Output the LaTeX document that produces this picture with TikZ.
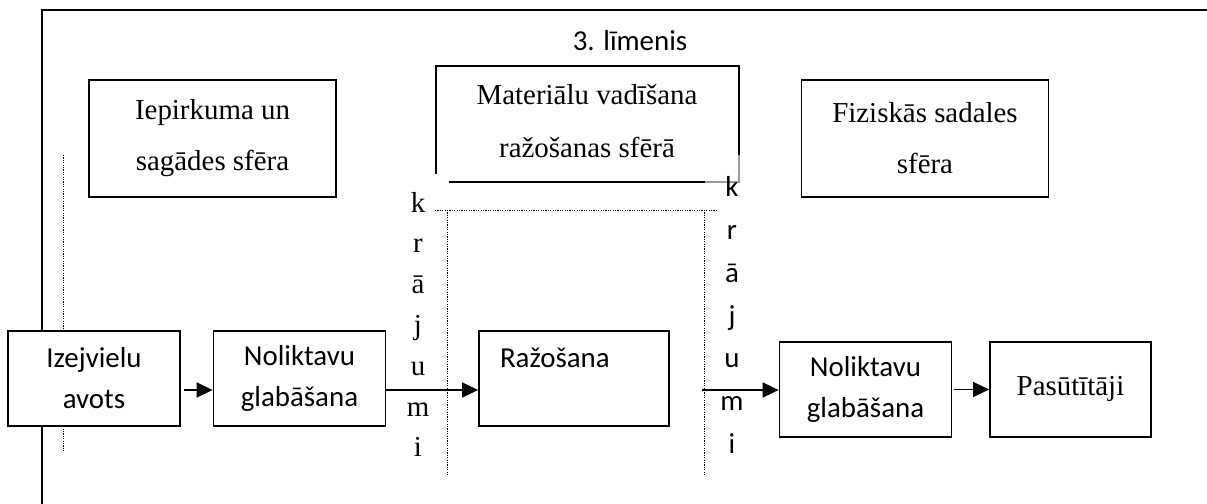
\documentclass[tikz,border=0pt]{standalone}
\usepackage{fontspec}
\setmainfont{Liberation Serif}
\setsansfont{Carlito}
\usetikzlibrary{arrows.meta,positioning}

\begin{document}
\begin{tikzpicture}[->,>={Triangle[length=8pt,width=7.5pt]},x=0.5pt,y=-0.5pt,
  line width=0.9pt]

% Define block styles
\tikzstyle{sphere} = [rectangle, draw, fill=white, align=center, inner sep=0pt,
    minimum width=123.5pt, minimum height=58.5pt, font=\fontsize{14.45pt}{25.5pt}\selectfont]
\tikzstyle{block} = [rectangle, draw, fill=white, align=center, inner sep=0pt,
    minimum width=86pt, minimum height=47.5pt, font=\sffamily\fontsize{14.45pt}{20.5pt}\selectfont]
\tikzstyle{outer} = [draw, -, line width=1.3pt]
\tikzstyle{stockline} = [draw, -, line width=0.5pt, dash pattern=on 0.6pt off 0.6pt]

\useasboundingbox (0,0) rectangle (1207,504);

% frame and stock borders
\path[outer] (42,504) -- (42,10) -- (1207,10);
\path[stockline] (63,155) -- (63,452);
\path[stockline] (435,210) -- (717,210);
\path[stockline] (447,210) -- (447,475);
\path[stockline] (704,210) -- (704,475);

% level and spheres
\node[font=\sffamily\fontsize{14.45pt}{17pt}\selectfont, anchor=base] (level) at (630,50) {3. līmenis};
\node[sphere]	(supply)	at (212.5,138.5)	{Iepirkuma un\\sagādes sfēra};
\node[sphere]	(distr)	at (925,138.5)	{Fiziskās sadales\\sfēra};
\node[font=\fontsize{14.45pt}{26.5pt}\selectfont, align=center] (prod) at (587,121) {Materiālu vadīšana\\ražošanas sfērā};
\path[draw,-] (449,182) -- (705,182);
\path[draw,-,black!40] (705,182) -- (739,182) -- (739,155);
\path[draw,-] (739,155) -- (739,66) -- (436,66) -- (436,174);

% stock labels
\node[font=\fontsize{14.45pt}{20.4pt}\selectfont, align=center] (stockL) at (418,324.5) {k\\r\\ā\\j\\u\\m\\i};
\node[font=\sffamily\fontsize{14.45pt}{21.4pt}\selectfont, align=center] (stockR) at (732,315) {k\\r\\ā\\j\\u\\m\\i};

% material flow
\node[block]		(source)	at (94,378.5)		{Izejvielu\\avots};
\node[block]		(store1)	[right of=source, node distance=102.75pt]	{Noliktavu\\glabāšana};
\node[block, minimum width=95pt, text width=74pt, align=left]	(making)	[right of=store1, node distance=137.25pt]	{Ražošana\\\mbox{}};
\node[block]		(store2)	at (865.5,389.5)	{Noliktavu\\glabāšana};
\node[block, minimum width=80.5pt, font=\fontsize{14.45pt}{20pt}\selectfont]	(clients)	[right of=store2, node distance=102.5pt]	{Pasūtītāji};

\coordinate (prodout) at (702,390);

\draw[shorten <=1.5pt] ([yshift=-5.75pt]source.east) -- ([yshift=-5.75pt]store1.west);
\draw ([yshift=-5.75pt]store1.east) -- ([yshift=-5.75pt]making.west);
\draw (prodout) -- (prodout -| store2.west);
\draw[shorten <=1pt] (store2.east) -- (clients.west);

\end{tikzpicture}
\end{document}
